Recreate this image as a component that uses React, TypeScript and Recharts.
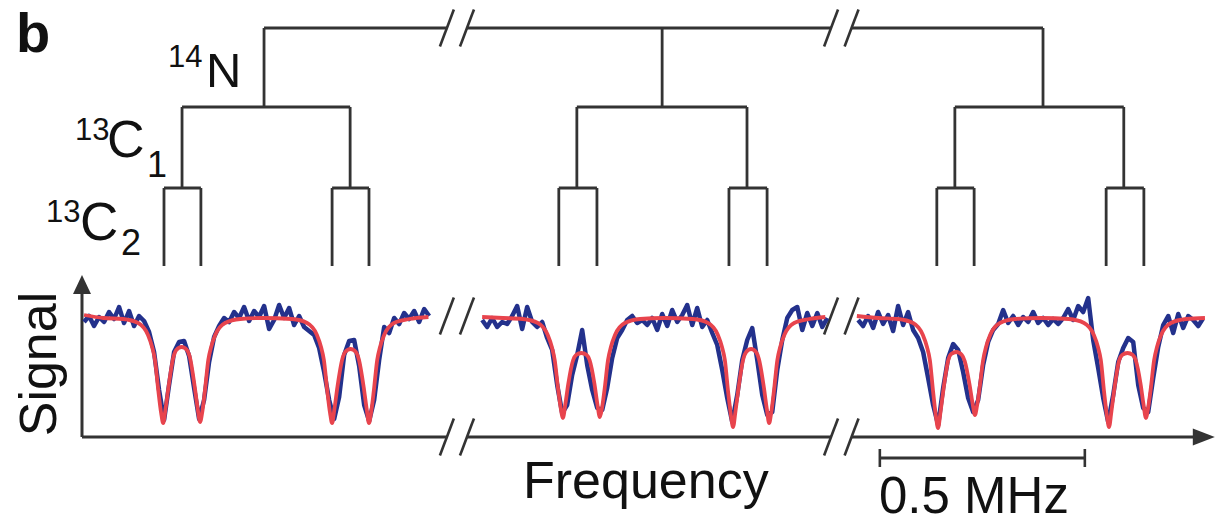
import React from 'react';
import { ComposedChart, Line, XAxis, YAxis, ReferenceLine, ReferenceDot } from 'recharts';

// Frequency (kHz, display coordinate of the broken axis) and signal (a.u.)
const blueStep = 12.2;
const blueStarts = [5, 976, 1893];

const blue1 = [1.15,1.21,1.11,1.20,1.15,1.25,1.18,1.30,1.14,1.26,1.11,1.21,1.16,1.05,0.85,0.47,0.17,0.52,0.85,0.95,0.96,0.81,0.49,0.18,0.37,0.75,1.00,1.11,1.19,1.15,1.25,1.19,1.30,1.16,1.26,1.20,1.31,1.08,1.17,1.32,1.19,1.29,1.12,1.21,1.10,1.06,1.02,0.89,0.65,0.37,0.18,0.40,0.82,0.96,0.97,0.71,0.32,0.16,0.37,0.77,1.10,1.04,1.19,1.13,1.24,1.18,1.26,1.15,1.28,1.21];
const blue2 = [1.17,1.10,1.19,1.10,1.15,1.13,1.21,1.31,1.08,1.30,1.15,1.10,1.15,0.99,0.87,0.52,0.24,0.32,0.62,0.82,1.07,0.72,0.47,0.29,0.27,0.49,0.79,0.99,1.07,1.17,1.21,1.14,1.17,1.12,1.19,1.07,1.23,1.11,1.27,1.15,1.22,1.32,1.12,1.29,1.10,1.17,1.04,0.92,0.67,0.39,0.15,0.42,0.77,0.97,1.09,0.77,0.42,0.22,0.25,0.67,0.97,1.19,1.27,1.30,1.07,1.24,1.11,1.24,1.10,1.19];
const blue3 = [1.17,1.11,1.21,1.09,1.25,1.13,1.22,1.06,1.31,1.12,1.25,1.07,0.99,0.85,0.59,0.32,0.12,0.49,0.79,0.93,0.87,0.65,0.39,0.25,0.37,0.72,0.95,1.07,1.13,1.27,1.14,1.21,1.12,1.20,1.15,1.25,1.14,1.19,1.12,1.18,1.13,1.19,1.28,1.17,1.31,1.25,1.39,0.97,0.69,0.39,0.15,0.42,0.75,0.89,0.99,0.95,0.52,0.29,0.25,0.59,0.90,1.12,1.21,1.04,1.23,1.09,1.21,1.17,1.11,1.19];

const fit1: [number, number][] = [[5,1.22],[52,1.19],[100,1.18],[137,1.14],[161,1.02],[171,0.90],[178,0.77],[186,0.47],[193,0.24],[198,0.14],[204,0.29],[211,0.50],[223,0.80],[230,0.87],[243,0.90],[256,0.87],[263,0.80],[275,0.50],[282,0.29],[288,0.15],[293,0.24],[300,0.47],[308,0.77],[315,0.90],[325,1.02],[349,1.14],[386,1.18],[440,1.19],[512,1.18],[549,1.14],[573,1.02],[583,0.90],[590,0.77],[598,0.47],[605,0.24],[610,0.14],[616,0.29],[623,0.50],[635,0.78],[642,0.85],[655,0.88],[668,0.85],[675,0.78],[687,0.50],[694,0.29],[700,0.14],[705,0.24],[712,0.47],[720,0.77],[727,0.90],[737,1.02],[761,1.14],[798,1.18],[845,1.20]];
const fit2: [number, number][] = [[976,1.20],[1027,1.19],[1075,1.18],[1112,1.14],[1136,1.02],[1146,0.90],[1153,0.77],[1161,0.49],[1168,0.28],[1173,0.19],[1179,0.33],[1186,0.53],[1198,0.77],[1205,0.82],[1218,0.84],[1231,0.82],[1238,0.77],[1250,0.53],[1257,0.33],[1263,0.20],[1268,0.28],[1275,0.49],[1283,0.77],[1290,0.90],[1300,1.02],[1324,1.14],[1361,1.18],[1420,1.19],[1490,1.18],[1527,1.14],[1551,1.02],[1561,0.90],[1568,0.77],[1576,0.45],[1583,0.21],[1588,0.10],[1594,0.26],[1601,0.48],[1613,0.78],[1620,0.85],[1632,0.88],[1644,0.85],[1651,0.78],[1663,0.50],[1670,0.29],[1676,0.14],[1681,0.24],[1688,0.47],[1696,0.77],[1703,0.90],[1713,1.02],[1737,1.14],[1774,1.18],[1813,1.20]];
const fit3: [number, number][] = [[1890,1.21],[1942,1.19],[1990,1.18],[2027,1.14],[2051,1.02],[2061,0.90],[2068,0.77],[2076,0.45],[2083,0.20],[2088,0.09],[2094,0.25],[2101,0.47],[2113,0.77],[2120,0.83],[2133,0.85],[2146,0.82],[2153,0.76],[2165,0.52],[2172,0.34],[2178,0.22],[2183,0.31],[2190,0.51],[2198,0.77],[2205,0.90],[2215,1.02],[2239,1.14],[2276,1.18],[2340,1.19],[2407,1.18],[2444,1.14],[2468,1.02],[2478,0.90],[2485,0.77],[2493,0.45],[2500,0.21],[2505,0.10],[2511,0.26],[2518,0.48],[2530,0.77],[2537,0.82],[2550,0.84],[2563,0.82],[2570,0.77],[2582,0.53],[2589,0.33],[2595,0.19],[2600,0.28],[2607,0.49],[2615,0.77],[2622,0.90],[2632,1.02],[2656,1.14],[2693,1.18],[2739,1.19]];

// Splitting tree (kHz positions, levels in signal units)
const treeLevels = [4.09, 3.30, 2.49, 1.71];
const n14Lines = [444, 1415, 2344];
const c1Lines: [number, number][] = [[244, 654], [1207, 1622], [2129, 2541]];
const c2Lines: [number, number][] = [[200, 290], [610, 700], [1163, 1256], [1578, 1671], [2085, 2176], [2498, 2590]];

// Axis breaks, arrows and scale bar
const breakPairs: [number, number][] = [[890, 939], [1827, 1877]];
const dataBreakLevel = 1.21;
const xAxisEnd = 2710;
const xArrowTip = 2763;
const yAxisEnd = 1.44;
const yArrowTip = 1.62;
const scaleBar = [1946, 2446];
const scaleBarLevel = -0.21;

const LINE = '#333333';
const BLUE = '#23318c';
const RED = '#e8444d';

const toRows = (vals: number[], start: number) => vals.map((v, i) => ({ f: start + i * blueStep, v }));
const toFit = (pts: [number, number][]) => pts.map(([f, v]) => ({ f, v }));

const seg = (key: string, x1: number, y1: number, x2: number, y2: number, w = 2.8) => (
  <ReferenceLine key={key} segment={[{ x: x1, y: y1 }, { x: x2, y: y2 }]} stroke={LINE} strokeWidth={w} ifOverflow="visible" />
);

const slash = (key: string, f: number, level: number) => seg(key, f - 17, level - 0.185, f + 17, level + 0.185, 2.6);

export default function App() {
  const els: React.ReactNode[] = [];
  const topY = treeLevels[0];
  els.push(seg('t0', n14Lines[0], topY, breakPairs[0][0], topY));
  els.push(seg('t1', breakPairs[0][1], topY, breakPairs[1][0], topY));
  els.push(seg('t2', breakPairs[1][1], topY, n14Lines[2], topY));
  breakPairs.forEach((bp, i) => { els.push(slash(`ts${i}a`, bp[0], topY)); els.push(slash(`ts${i}b`, bp[1], topY)); });
  n14Lines.forEach((f, i) => els.push(seg(`n${i}`, f, treeLevels[0], f, treeLevels[1])));
  c1Lines.forEach(([a, b], i) => {
    els.push(seg(`c1h${i}`, a, treeLevels[1], b, treeLevels[1]));
    els.push(seg(`c1a${i}`, a, treeLevels[1], a, treeLevels[2]));
    els.push(seg(`c1b${i}`, b, treeLevels[1], b, treeLevels[2]));
  });
  c2Lines.forEach(([a, b], i) => {
    els.push(seg(`c2h${i}`, a, treeLevels[2], b, treeLevels[2]));
    els.push(seg(`c2a${i}`, a, treeLevels[2], a, treeLevels[3]));
    els.push(seg(`c2b${i}`, b, treeLevels[2], b, treeLevels[3]));
  });
  els.push(seg('ax0', 0, 0, breakPairs[0][0], 0, 3));
  els.push(seg('ax1', breakPairs[0][1], 0, breakPairs[1][0], 0, 3));
  els.push(seg('ax2', breakPairs[1][1], 0, xAxisEnd, 0, 3));
  els.push(seg('ay', 0, 0, 0, yAxisEnd, 3));
  breakPairs.forEach((bp, i) => {
    els.push(slash(`as${i}a`, bp[0], 0)); els.push(slash(`as${i}b`, bp[1], 0));
    els.push(slash(`ds${i}a`, bp[0], dataBreakLevel)); els.push(slash(`ds${i}b`, bp[1], dataBreakLevel));
  });
  els.push(seg('sb', scaleBar[0], scaleBarLevel, scaleBar[1], scaleBarLevel, 3));
  els.push(seg('sb0', scaleBar[0], scaleBarLevel - 0.09, scaleBar[0], scaleBarLevel + 0.09, 2.6));
  els.push(seg('sb1', scaleBar[1], scaleBarLevel - 0.09, scaleBar[1], scaleBarLevel + 0.09, 2.6));

  const lineProps = { dataKey: 'v', dot: false, activeDot: false, isAnimationActive: false, legendType: 'none' as const };
  const font = "'Liberation Sans', Arial, Helvetica, sans-serif";
  return (
    <div style={{ position: 'absolute', left: 0, top: 0, width: 1223, height: 523, background: '#fff' }}>
      <ComposedChart width={1223} height={523} margin={{ top: 0, right: 0, bottom: 0, left: 0 }}>
        <XAxis type="number" dataKey="f" domain={[-200, 2783]} hide allowDataOverflow />
        <YAxis type="number" domain={[-0.86, 4.37]} hide allowDataOverflow />
        {els}
        <ReferenceDot x={xArrowTip} y={0} ifOverflow="visible" shape={(p: any) => (
          <polygon points={`${p.cx},${p.cy} ${p.cx - 22},${p.cy - 8.5} ${p.cx - 22},${p.cy + 8.5}`} fill={LINE} />
        )} />
        <ReferenceDot x={0} y={yArrowTip} ifOverflow="visible" shape={(p: any) => (
          <polygon points={`${p.cx},${p.cy} ${p.cx - 9},${p.cy + 19} ${p.cx + 9},${p.cy + 19}`} fill={LINE} />
        )} />
        <Line {...lineProps} data={toRows(blue1, blueStarts[0])} type="linear" stroke={BLUE} strokeWidth={4.5} strokeLinejoin="round" />
        <Line {...lineProps} data={toRows(blue2, blueStarts[1])} type="linear" stroke={BLUE} strokeWidth={4.5} strokeLinejoin="round" />
        <Line {...lineProps} data={toRows(blue3, blueStarts[2])} type="linear" stroke={BLUE} strokeWidth={4.5} strokeLinejoin="round" />
        <Line {...lineProps} data={toFit(fit1)} type="monotone" stroke={RED} strokeWidth={3.8} />
        <Line {...lineProps} data={toFit(fit2)} type="monotone" stroke={RED} strokeWidth={3.8} />
        <Line {...lineProps} data={toFit(fit3)} type="monotone" stroke={RED} strokeWidth={3.8} />
      </ComposedChart>
      <svg width={1223} height={523} style={{ position: 'absolute', left: 0, top: 0, pointerEvents: 'none' }} fontFamily={font} fill="#111">
        <text x={16} y={52} fontSize={56} fontWeight={700}>b</text>
        <text x={168} y={67} fontSize={31}>14</text>
        <text x={206} y={87} fontSize={49}>N</text>
        <text x={75} y={140} fontSize={31}>13</text>
        <text x={107} y={157} fontSize={52}>C</text>
        <text x={147} y={177} fontSize={36}>1</text>
        <text x={46} y={222} fontSize={31}>13</text>
        <text x={80} y={240} fontSize={53}>C</text>
        <text x={121} y={255} fontSize={36}>2</text>
        <text transform="translate(56,364) rotate(-90)" textAnchor="middle" fontSize={52}>Signal</text>
        <text x={523} y={498} fontSize={52}>Frequency</text>
        <text x={879} y={513} fontSize={51}>0.5 MHz</text>
      </svg>
    </div>
  );
}
